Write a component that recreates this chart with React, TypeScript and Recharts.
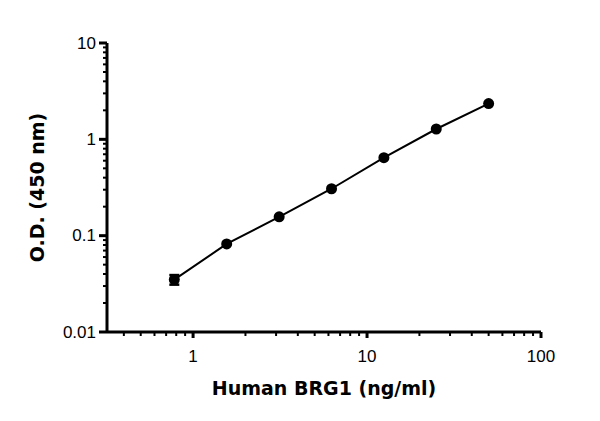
import { ErrorBar, Line, LineChart, XAxis, YAxis } from "recharts";

const concentrations = [0.78, 1.56, 3.125, 6.25, 12.5, 25, 50];
const odValues = [0.035, 0.082, 0.157, 0.307, 0.645, 1.28, 2.35];
// only the lowest standard shows an error bar outside its marker
const odErrors = [0.004, 0, 0, 0, 0, 0, 0];

const xMajorTicks = [1, 10, 100];
const xMinorTicks = [0.4, 0.5, 0.6, 0.7, 0.8, 0.9, 2, 3, 4, 5, 6, 7, 8, 9, 20, 30, 40, 50, 60, 70, 80, 90];
const yMajorTicks = [0.01, 0.1, 1, 10];
const yMinorTicks = [
  0.02, 0.03, 0.04, 0.05, 0.06, 0.07, 0.08, 0.09, 0.2, 0.3, 0.4, 0.5, 0.6, 0.7, 0.8, 0.9, 2, 3, 4, 5, 6, 7, 8, 9,
];

const data = concentrations.map((c, i) => ({ conc: c, od: odValues[i], err: odErrors[i] }));

const tickFont = { fontFamily: "'Liberation Sans', Arial, sans-serif", fontSize: 17, fill: "#000" };
const labelFont = { fontFamily: "'DejaVu Sans', sans-serif", fontSize: 19, fontWeight: 700, fill: "#000" };

function XTick(props: any) {
  const { x, y, payload } = props;
  const major = xMajorTicks.includes(payload.value);
  return (
    <g>
      <line x1={x} x2={x} y1={y} y2={y + (major ? 6 : 4)} stroke="#000" strokeWidth={major ? 3 : 2} />
      {major && (
        <text x={x} y={y + 24} textAnchor="middle" dominantBaseline="central" {...tickFont}>
          {payload.value}
        </text>
      )}
    </g>
  );
}

function YTick(props: any) {
  const { x, y, payload } = props;
  const major = yMajorTicks.includes(payload.value);
  return (
    <g>
      <line x1={x - (major ? 8 : 4)} x2={x} y1={y} y2={y} stroke="#000" strokeWidth={major ? 3 : 2} />
      {major && (
        <text x={x - 11} y={y} textAnchor="end" dominantBaseline="central" {...tickFont}>
          {payload.value}
        </text>
      )}
    </g>
  );
}

export default function App() {
  return (
    <div style={{ position: "absolute", left: 0, top: 0, background: "#fff" }}>
      <LineChart width={600} height={421} data={data} margin={{ top: 43, right: 59, bottom: 26, left: 0 }}>
        <XAxis
          dataKey="conc"
          type="number"
          scale="log"
          domain={[0.32, 100]}
          allowDataOverflow
          ticks={[...xMinorTicks, ...xMajorTicks]}
          interval={0}
          tick={<XTick />}
          tickLine={false}
          tickSize={0}
          tickMargin={0}
          height={63}
          axisLine={{ stroke: "#000", strokeWidth: 3 }}
          label={{ value: "Human BRG1 (ng/ml)", position: "insideBottom", offset: 0, style: labelFont }}
        />
        <YAxis
          type="number"
          scale="log"
          domain={[0.01, 10]}
          allowDataOverflow
          ticks={[...yMinorTicks, ...yMajorTicks]}
          interval={0}
          tick={<YTick />}
          tickLine={false}
          tickSize={0}
          tickMargin={0}
          width={107}
          axisLine={{ stroke: "#000", strokeWidth: 3 }}
          label={{
            value: "O.D. (450 nm)",
            position: "insideLeft",
            angle: -90,
            offset: 37,
            style: { ...labelFont, textAnchor: "middle" },
          }}
        />
        <Line
          dataKey="od"
          type="linear"
          stroke="#000"
          strokeWidth={2}
          dot={{ r: 5.5, fill: "#000", stroke: "#000", strokeWidth: 0 }}
          isAnimationActive={false}
        >
          <ErrorBar dataKey="err" width={5} stroke="#000" strokeWidth={2.5} />
        </Line>
      </LineChart>
    </div>
  );
}
